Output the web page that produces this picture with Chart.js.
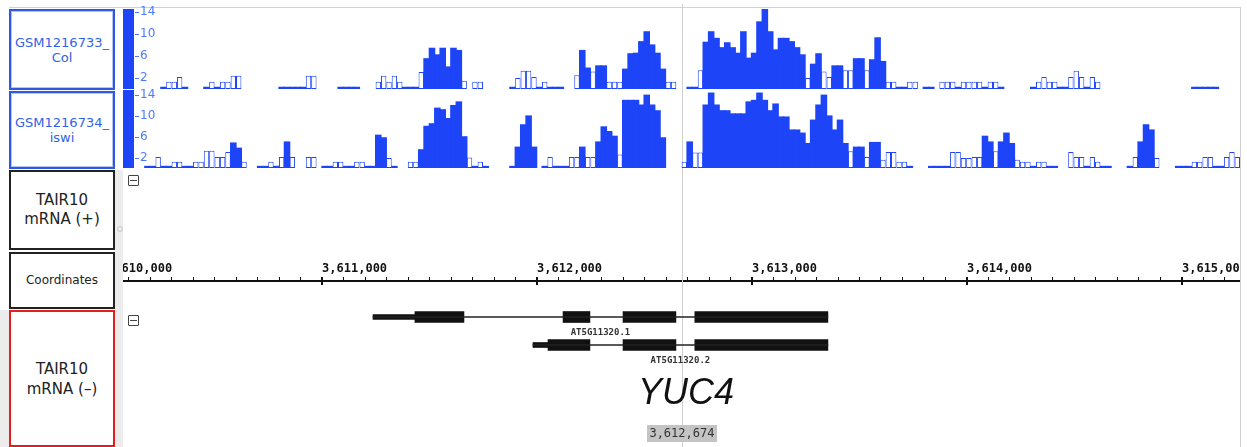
<!DOCTYPE html>
<html>
<head>
<meta charset="utf-8">
<script src="https://cdn.jsdelivr.net/npm/chart.js@4.4.1/dist/chart.umd.min.js"></script>
<style>
body { margin: 0; width: 1247px; height: 447px; overflow: hidden; background: #fff; position: relative; font-family: "DejaVu Sans", sans-serif; }
.box { position: absolute; left: 9px; width: 106px; box-sizing: border-box; background: #fff;
       display: flex; flex-direction: column; justify-content: center; align-items: center; text-align: center; }
.blue { border: 2px solid #2f57e0; box-shadow: inset 0 0 0 1px #b4c6f6; color: #2f63e6; font-size: 13px; line-height: 15px; }
.black { border: 2px solid #222; color: #222; font-size: 15px; line-height: 19px; }
.red { border: 2px solid #e51d1d; color: #222; font-size: 15px; line-height: 20px; }
.gutter { position: absolute; background: #ececec; }
.wrap { position: absolute; left: 123px; width: 1117px; }
.collapse { position: absolute; left: 128px; width: 9px; height: 9px; border: 1px solid #444; border-radius: 1px; }
.collapse::after { content: ""; position: absolute; left: 1px; right: 1px; top: 4px; height: 1px; background: #444; }
</style>
</head>
<body>
<div class="gutter" style="left:115px;top:170px;width:8px;height:277px"></div>
<div class="gutter" style="left:0;top:310px;width:9px;height:137px"></div>
<div style="position:absolute;left:117px;top:226px;width:4px;height:4px;border:1px solid #c8c8c8;border-radius:50%"></div>
<div style="position:absolute;left:9px;top:7px;width:1232px;height:1px;background:#d2d2d2"></div>
<div style="position:absolute;left:1240px;top:7px;width:1px;height:440px;background:#d2d2d2"></div>

<div class="box blue" style="top:9px;height:81px">GSM1216733_<br>Col</div>
<div class="box blue" style="top:91px;height:78px">GSM1216734_<br>iswi</div>
<div class="box black" style="top:170px;height:80px">TAIR10<br>mRNA (+)</div>
<div class="box black" style="top:252px;height:57px;font-size:12px">Coordinates</div>
<div class="box red" style="top:310px;height:137px">TAIR10<br>mRNA (–)</div>

<div class="wrap" style="top:4px;height:86px"><canvas id="col"></canvas></div>
<div class="wrap" style="top:88px;height:83px"><canvas id="iswi"></canvas></div>
<div class="wrap" style="top:171px;height:129px"><canvas id="coord"></canvas></div>
<div class="wrap" style="top:300px;height:147px"><canvas id="genes"></canvas></div>

<div class="collapse" style="top:175px"></div>
<div class="collapse" style="top:315px"></div>

<script>
const BLUE = '#1d44f7';
const LABEL_BLUE = '#4d7bff';

// visible window and cursor position (bp)
const viewStart = 3610074, viewEnd = 3615270;
const cursorPos = 3612674;

// coverage bins, 25 bp each, starting at binStart
const binStart = 3610124, binSize = 25;

const colValues = [
  null, null, null, null, null, 0.3, 1.3, 1.3, 2.2, 0.3,
  null, null, null, 0.3, 1.3, 0.3, 1.3, 1.3, 2.4, 2.4,
  null, null, null, null, null, null, null, 0.3, 0.3, 0.3,
  0.3, 0.3, 2.4, 2.4, null, null, null, null, 0.3, 0.3,
  0.3, 0.3, null, null, null, 1.3, 2.4, 1.3, 2.4, 1.3,
  0.3, 0.3, 0.3, 3.1, 5.5, 7.4, 6.2, 7.4, 4.0, 7.4,
  7.0, 1.5, null, 1.3, 1.3, null, null, null, null, null,
  0.3, 2.0, 3.3, 3.3, 2.2, 0.3, 1.3, 0.3, 0.3, 0.3,
  null, null, 2.5, 7.0, 3.8, 3.2, 4.2, 4.2, 1.3, 1.3,
  1.3, 3.6, 6.4, 6.5, 8.6, 10.4, 8.0, 6.5, 3.6, 1.3,
  1.3, null, null, 0.3, 0.3, 3.4, 8.5, 10.4, 9.2, 7.5,
  8.4, 7.5, 6.5, 10.4, 5.6, 6.5, 12.2, 14.5, 10.4, 7.1,
  9.2, 9.2, 8.6, 7.5, 6.2, 2.0, 4.5, 6.4, 3.2, 2.2,
  4.2, 4.2, 3.4, 3.4, 5.5, 5.5, 3.4, 5.3, 9.3, 5.0,
  1.3, 1.3, 0.3, 0.3, 1.3, 1.3, null, 0.3, 0.3, null,
  1.3, 1.3, 1.3, 0.3, 1.3, 1.3, 1.3, 1.3, 0.3, 1.3,
  1.3, 0.3, null, null, null, null, null, 0.3, 1.3, 2.2,
  1.3, 1.3, 0.3, 0.3, 2.2, 3.3, 2.2, 0.3, 2.2, 1.3,
  null, null, null, null, null, null, null, null, null, null,
  null, null, null, null, null, null, null, 0.3, 0.3, 0.3,
  0.3, 0.3, null, null, null, null
];

const iswiValues = [
  null, null, 0.3, 0.3, 2.1, 0.3, 0.3, 1.2, 1.2, 0.3,
  0.3, 1.2, 1.2, 3.3, 3.3, 2.1, 2.1, 3.1, 4.8, 3.8,
  1.2, null, null, 0.3, 0.3, 1.2, 0.3, 2.1, 5.0, 2.1,
  null, null, 2.1, 2.1, null, 0.3, 0.3, 1.2, 1.2, 0.3,
  0.3, 1.2, 1.2, 0.3, 0.3, 6.3, 5.8, 1.9, 0.3, null,
  null, 1.2, 1.2, 3.5, 8.0, 8.5, 11.5, 11.2, 9.5, 12.0,
  12.7, 6.0, 2.0, 0.3, 1.2, 0.3, null, null, null, null,
  0.3, 4.0, 8.3, 10.0, 4.0, null, 0.3, 2.1, 0.3, 0.3,
  0.3, 2.1, 2.1, 4.0, 2.1, 2.1, 5.0, 7.9, 7.0, 6.1,
  2.6, 13.0, 13.0, 13.0, 12.1, 14.0, 12.1, 11.0, 5.8, null,
  null, null, 1.2, 5.0, 3.0, 3.0, 12.1, 14.4, 12.1, 11.0,
  11.0, 10.4, 10.4, 10.4, 12.7, 13.0, 14.4, 13.0, 11.0, 12.3,
  9.8, 9.8, 7.3, 7.3, 6.7, 4.7, 9.2, 12.1, 14.0, 10.0,
  7.3, 9.2, 4.7, 3.2, 4.0, 4.0, 2.1, 4.9, 4.9, 1.6,
  3.1, 3.1, 1.2, 1.2, 0.3, null, null, null, 0.3, 0.3,
  0.3, 0.3, 3.1, 3.1, 1.9, 1.9, 2.1, 2.1, 6.1, 5.0,
  3.2, 5.0, 6.7, 4.7, 1.6, 1.2, 1.2, 0.3, 1.2, 1.2,
  0.3, 0.3, null, null, 3.1, 2.1, 2.1, 0.3, 2.1, 1.2,
  0.3, 0.3, null, null, null, 0.3, 2.1, 5.0, 8.3, 7.3,
  1.9, null, null, null, 0.3, 0.3, 0.3, 1.2, 1.2, 2.1,
  2.1, 0.3, 0.3, 2.1, 3.1, 2.1
];

const yTicks = [2, 6, 10, 14];
const coordMajor = [3610000, 3611000, 3612000, 3613000, 3614000, 3615000];
const coordMinorStep = 100;

// transcripts (minus strand)
const geneIds = ['AT5G11320.1', 'AT5G11320.2'];
const geneName = 'YUC4';
const intronSpans = [[3611237, 3613353], [3611981, 3613353]];
const utrSpans = [[3611237, 3611432], [3611981, 3612051]];
const exonSpans = [
  [[3611432, 3611660], [3612121, 3612246], [3612400, 3612646], [3612734, 3613353]],
  [[3612051, 3612246], [3612400, 3612646], [3612734, 3613353]]
];

Chart.defaults.font.family = "'DejaVu Sans', sans-serif";
Chart.defaults.animation = false;
Chart.defaults.responsive = true;
Chart.defaults.maintainAspectRatio = false;
Chart.defaults.plugins.legend.display = false;
Chart.defaults.plugins.tooltip.enabled = false;

const binLabels = colValues.map((_, i) => binStart + i * binSize);

function bpToPixel(chart, bp) {
  const xs = chart.scales.x;
  if (xs.type === 'category') return xs.getPixelForValue((bp - binStart) / binSize - 0.5);
  return xs.getPixelForValue(bp);
}

const centerLine = {
  id: 'centerLine',
  beforeDatasetsDraw(chart) {
    const ctx = chart.ctx;
    const x = Math.round(bpToPixel(chart, cursorPos)) + 0.5;
    ctx.save();
    ctx.strokeStyle = '#cfcfcf';
    ctx.lineWidth = 1;
    ctx.beginPath();
    ctx.moveTo(x, 0);
    ctx.lineTo(x, chart.height);
    ctx.stroke();
    ctx.restore();
  }
};

const yDashes = {
  id: 'yDashes',
  afterDraw(chart) {
    const ys = chart.scales.y, ctx = chart.ctx;
    ctx.save();
    ctx.strokeStyle = LABEL_BLUE;
    ctx.lineWidth = 1;
    ys.ticks.forEach(t => {
      const y = Math.round(ys.getPixelForValue(t.value)) + 0.5;
      ctx.beginPath();
      ctx.moveTo(ys.right + 1, y);
      ctx.lineTo(ys.right + 5, y);
      ctx.stroke();
    });
    ctx.restore();
  }
};

const isHollow = v => v != null && v > 0.5 && v < 3.5;

function coverageChart(id, values, yMax, padTop, padBottom) {
  return new Chart(document.getElementById(id), {
    type: 'bar',
    data: {
      labels: binLabels,
      datasets: [{
        data: values,
        backgroundColor: ctx => isHollow(ctx.raw) ? '#ffffff' : BLUE,
        borderColor: BLUE,
        borderWidth: ctx => isHollow(ctx.raw) ? 1 : 0,
        inflateAmount: ctx => isHollow(ctx.raw) ? 0 : 0.6,
        borderSkipped: false,
        categoryPercentage: 1,
        barPercentage: 1
      }]
    },
    options: {
      layout: { padding: { top: padTop, bottom: padBottom } },
      scales: {
        x: { display: false },
        y: {
          min: 0,
          max: yMax,
          position: 'left',
          backgroundColor: BLUE,
          grid: { display: false },
          border: { display: false },
          afterBuildTicks: s => { s.ticks = yTicks.map(v => ({ value: v })); },
          afterFit: s => { s.width = 11; s.paddingTop = 0; s.paddingBottom = 0; },
          ticks: { mirror: true, padding: 6, color: LABEL_BLUE, font: { size: 12 } }
        }
      }
    },
    plugins: [centerLine, yDashes]
  });
}

coverageChart('col', colValues, 14.55, 5, 1);
coverageChart('iswi', iswiValues, 15.0, 2, 3);

// coordinate ruler
const isMajor = c => c.tick && coordMajor.includes(c.tick.value);
new Chart(document.getElementById('coord'), {
  type: 'line',
  data: { datasets: [] },
  options: {
    layout: { padding: { top: 90, bottom: 15, left: 0, right: 0 } },
    scales: {
      x: {
        type: 'linear',
        position: 'top',
        min: viewStart,
        max: viewEnd,
        afterBuildTicks: s => {
          const t = [];
          for (let v = coordMajor[0]; v <= viewEnd; v += coordMinorStep) t.push({ value: v });
          s.ticks = t;
        },
        afterFit: s => { s.height = 20; s.paddingLeft = 0; s.paddingRight = 0; },
        border: { display: true, color: '#111', width: 2 },
        grid: {
          drawOnChartArea: true,
          drawTicks: true,
          tickLength: 4,
          color: c => isMajor(c) ? '#111' : 'rgba(0,0,0,0)',
          lineWidth: c => isMajor(c) ? 2 : 1,
          tickColor: '#111',
          tickWidth: c => isMajor(c) ? 2 : 1
        },
        ticks: {
          autoSkip: false,
          maxRotation: 0,
          minRotation: 0,
          align: 'start',
          padding: 1,
          color: '#111',
          font: { family: "'DejaVu Sans Mono', monospace", size: 12, weight: 'bold' },
          callback: v => coordMajor.includes(v) ? v.toLocaleString('en-US') : ''
        }
      },
      y: { display: false, min: 0, max: 1 }
    }
  },
  plugins: [centerLine]
});

// gene models
const spanData = spans => spans.map((s, i) => ({ y: geneIds[i], x: s }));
const exonData = [];
exonSpans.forEach((list, i) => list.forEach(s => exonData.push({ y: geneIds[i], x: s })));

const geneLabels = {
  id: 'geneLabels',
  afterDatasetsDraw(chart) {
    const ctx = chart.ctx;
    const introns = chart.getDatasetMeta(0).data;
    ctx.save();
    ctx.fillStyle = '#333';
    ctx.textAlign = 'center';
    ctx.textBaseline = 'middle';
    ctx.font = "bold 9px 'DejaVu Sans Mono', monospace";
    introns.forEach((bar, i) => {
      ctx.fillText(geneIds[i], (bar.x + bar.base) / 2, bar.y + 16);
    });
    const xc = bpToPixel(chart, cursorPos);
    ctx.fillStyle = '#111';
    ctx.font = "italic 36px 'Liberation Sans', Arial, sans-serif";
    ctx.fillText(geneName, xc + 4, chart.chartArea.bottom + 35);
    // cursor position label
    ctx.fillStyle = '#c4c4c4';
    ctx.fillRect(Math.round(xc) - 35, chart.height - 22, 70, 17);
    ctx.fillStyle = '#333';
    ctx.font = "12px 'DejaVu Sans Mono', monospace";
    ctx.fillText(cursorPos.toLocaleString('en-US'), xc, chart.height - 13);
    ctx.restore();
  }
};

new Chart(document.getElementById('genes'), {
  type: 'bar',
  data: {
    labels: geneIds,
    datasets: [
      { data: spanData(intronSpans), barThickness: 1, backgroundColor: '#222' },
      { data: spanData(utrSpans), barThickness: 5, backgroundColor: '#111' },
      { data: exonData, barThickness: 11, backgroundColor: '#111' }
    ]
  },
  options: {
    indexAxis: 'y',
    datasets: { bar: { grouped: false, borderWidth: 0 } },
    layout: { padding: { top: 3, bottom: 88, left: 0, right: 0 } },
    scales: {
      x: { type: 'linear', min: viewStart, max: viewEnd, display: false },
      y: { display: false }
    }
  },
  plugins: [centerLine, geneLabels]
});
</script>
</body>
</html>
